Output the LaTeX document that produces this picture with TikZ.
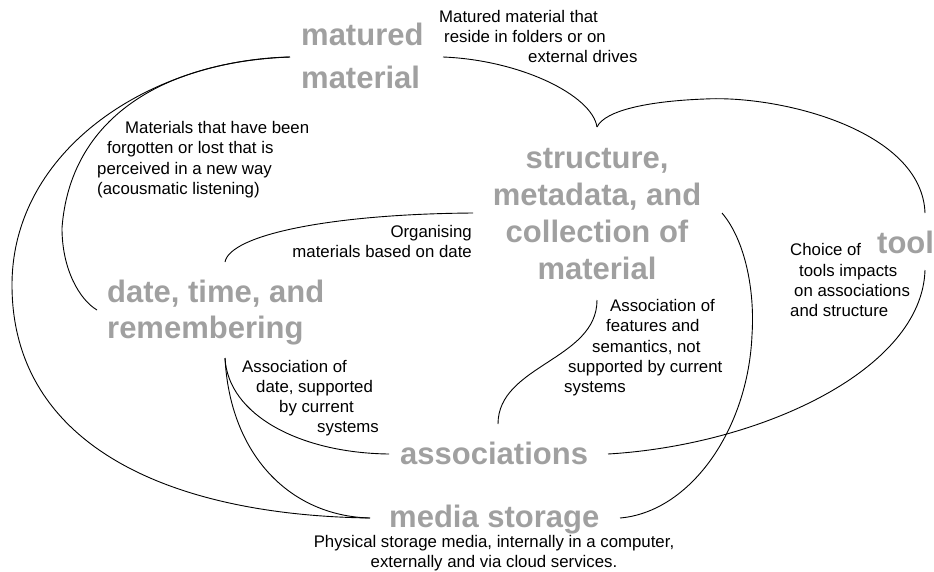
\documentclass[tikz,border=0pt]{standalone}
\usepackage{fontspec}
\setmainfont{Liberation Sans}
\definecolor{lbl}{RGB}{160,160,160}
\begin{document}
\begin{tikzpicture}[x=1pt,y=-1pt,
  big/.style={font=\fontsize{31}{36}\selectfont\bfseries, text=lbl, inner sep=0pt},
  small/.style={font=\fontsize{16.8}{20}\selectfont, inner sep=0pt},
  link/.style={line width=0.9pt, black}]
\useasboundingbox (0,0) rectangle (934,571);
% main labels
\node[big, anchor=base west] (mm1) at (301,45) {matured};
\node[big, anchor=base west] (mm2) at (301,88) {material};
\node[big, anchor=base] (st1) at (597,168) {structure,};
\node[big, anchor=base] (st2) at (597,205) {metadata, and};
\node[big, anchor=base] (st3) at (597,242) {collection of};
\node[big, anchor=base] (st4) at (597,279) {material};
\node[big, anchor=base west] (tool) at (877,253) {tool};
\node[big, anchor=base west] (dt1) at (107,302) {date, time, and};
\node[big, anchor=base west] (dt2) at (107,338) {remembering};
\node[big, anchor=base west] (as) at (400,464) {associations};
\node[big, anchor=base west] (ms) at (389,527) {media storage};
% annotations
\node[small, anchor=base west] (a1) at (439,22) {Matured material that};
\node[small, anchor=base west] (a2) at (444,42) {reside in folders or on};
\node[small, anchor=base west] (a3) at (528,62) {external drives};
\node[small, anchor=base west] (b1) at (125,133) {Materials that have been};
\node[small, anchor=base west] (b2) at (107,153) {forgotten or lost that is};
\node[small, anchor=base west] (b3) at (97,174) {perceived in a new way};
\node[small, anchor=base west] (b4) at (97,194) {(acousmatic listening)};
\node[small, anchor=base east] (c1) at (472,237) {Organising};
\node[small, anchor=base east] (c2) at (472,257) {materials based on date};
\node[small, anchor=base west] (d1) at (790,255) {Choice of};
\node[small, anchor=base west] (d2) at (799,276) {tools impacts};
\node[small, anchor=base west] (d3) at (794,296) {on associations};
\node[small, anchor=base west] (d4) at (790,316) {and structure};
\node[small, anchor=base west] (e1) at (610,311) {Association of};
\node[small, anchor=base west] (e2) at (606,331) {features and};
\node[small, anchor=base west] (e3) at (592,352) {semantics, not};
\node[small, anchor=base west] (e4) at (568,372) {supported by current};
\node[small, anchor=base west] (e5) at (564,392) {systems};
\node[small, anchor=base west] (f1) at (242,372) {Association of};
\node[small, anchor=base west] (f2) at (256,392) {date, supported};
\node[small, anchor=base west] (f3) at (279,412) {by current};
\node[small, anchor=base west] (f4) at (317,432) {systems};
\node[small, anchor=base] (g1) at (494,547) {Physical storage media, internally in a computer,};
\node[small, anchor=base] (g2) at (494,567) {externally and via cloud services.};
% connector end points
\coordinate (mmL) at (290,57);
\coordinate (mmR) at (443,57);
\coordinate (stT) at (597,127);
\coordinate (stR) at (722,213);
\coordinate (stB) at (597,300);
\coordinate (stL) at (473,213);
\coordinate (toT) at (925,213);
\coordinate (toB) at (925,270);
\coordinate (dtL) at (97,310);
\coordinate (dtT) at (225,262);
\coordinate (dtB) at (225,358);
\coordinate (asL) at (389,454);
\coordinate (asR) at (608,454);
\coordinate (asT) at (498,424);
\coordinate (msL) at (370,518);
\coordinate (msR) at (620,518);
\coordinate (k1) at (12,285);
\coordinate (k2) at (62,228);
\coordinate (k3) at (705,99);
\coordinate (k4) at (752,335);
% connectors
\draw[link] (mmL) .. controls (150,60) and (12,150) .. (k1) .. controls (12,440) and (160,515) .. (msL);
\draw[link] (mmL) .. controls (160,62) and (70,120) .. (k2) .. controls (62,270) and (80,300) .. (dtL);
\draw[link] (mmR) .. controls (520,60) and (592,95) .. (stT);
\draw[link] (toT) .. controls (922,130) and (780,95) .. (k3) .. controls (650,101) and (605,110) .. (stT);
\draw[link] (toB) .. controls (922,370) and (760,445) .. (asR);
\draw[link] (stR) .. controls (745,240) and (755,290) .. (k4) .. controls (748,430) and (690,512) .. (msR);
\draw[link] (stB) .. controls (597,360) and (498,365) .. (asT);
\draw[link] (dtT) .. controls (230,235) and (330,214) .. (stL);
\draw[link] (dtB) .. controls (228,415) and (300,453) .. (asL);
\draw[link] (dtB) .. controls (230,455) and (290,516) .. (msL);
\end{tikzpicture}
\end{document}
